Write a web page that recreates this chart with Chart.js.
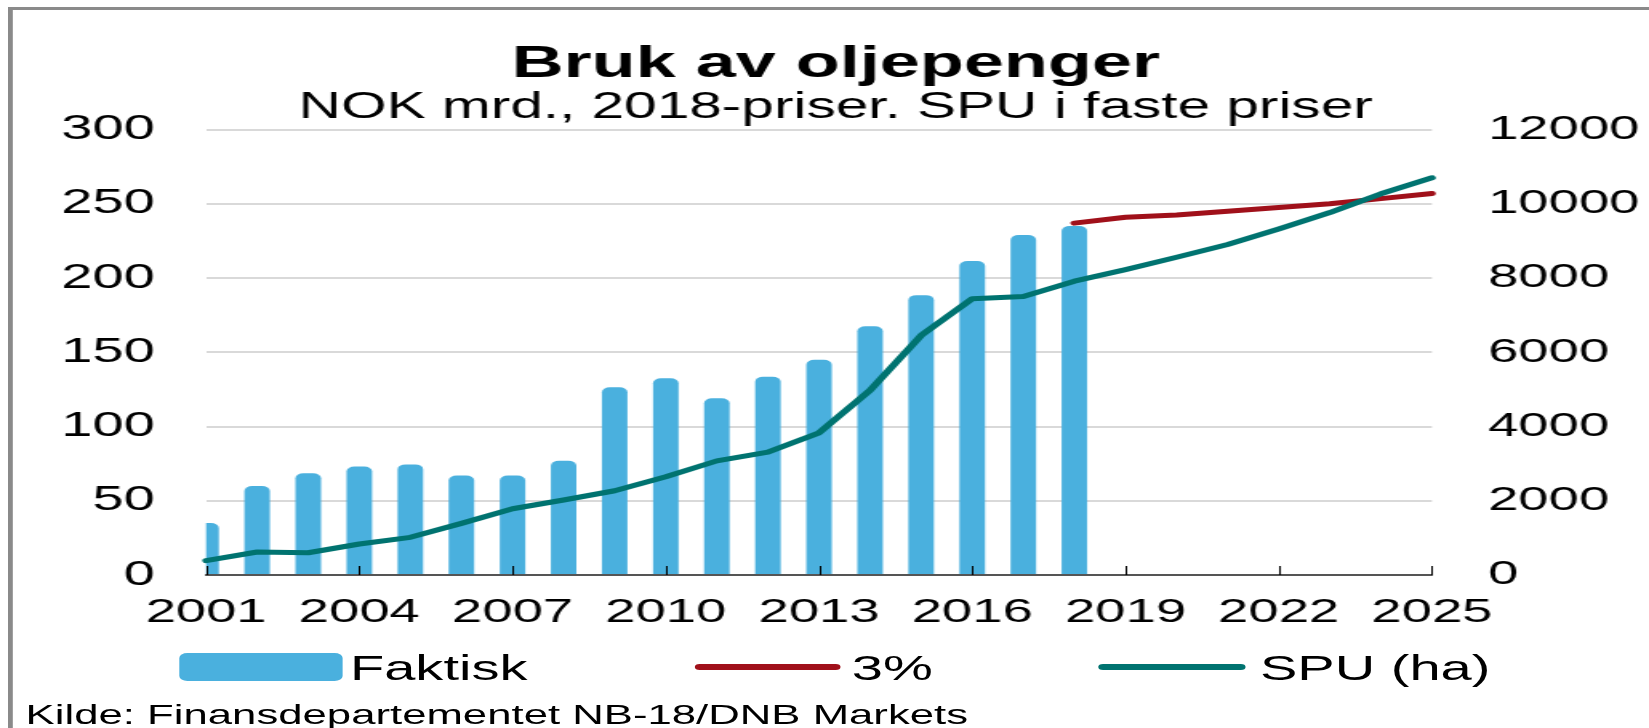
<!DOCTYPE html>
<html>
<head>
<meta charset="utf-8">
<script src="https://cdn.jsdelivr.net/npm/chart.js@4"></script>
<style>
  body { margin: 0; overflow: hidden; background: #fff; }
  #wrap { position: absolute; left: 0; top: 0; width: 1030px; height: 728px;
          transform: scaleX(1.601); transform-origin: 0 0;
          font-family: "Liberation Sans", Arial, sans-serif; color: #000; }
  #frame { position: absolute; left: 5px; top: 7px; width: 2000px; height: 2000px;
           border-top: 3px solid #8a8a8a; border-left: 3px solid #8a8a8a; }
  .leg { position: absolute; }
  .legtxt { position: absolute; top: 650px; font-size: 35px; line-height: 35px; white-space: nowrap; }
  #kilde { position: absolute; left: 16px; top: 702px; font-size: 27.3px; line-height: 26px; white-space: nowrap; }
</style>
</head>
<body>
<div id="wrap">
  <div id="frame"></div>
  <canvas id="oljeChart" width="1030" height="728"></canvas>
  <div id="legend"></div>
  <div id="kilde">Kilde: Finansdepartementet NB-18/DNB Markets</div>
</div>
<script>
// categories
const years = ['2001', '2002', '2003', '2004', '2005', '2006', '2007', '2008', '2009', '2010',
  '2011', '2012', '2013', '2014', '2015', '2016', '2017', '2018', '2019', '2020',
  '2021', '2022', '2023', '2024', '2025'];

// Faktisk bruk, NOK mrd (venstre akse)
const faktisk = [35, 60, 68.5, 73, 74.5, 67, 67, 77, 126.5, 132.5, 119, 133.5, 145, 167.5,
  188.5, 211.5, 229, 235];

// 3 % banen, NOK mrd (venstre akse)
const treProsent = [null, null, null, null, null, null, null, null, null, null, null, null,
  null, null, null, null, null, 237, 241, 242.5, 245, 247.5, 250, 253.5, 257];

// SPU (høyre akse)
const spu = [385, 620, 600, 835, 1015, 1390, 1785, 2020, 2270, 2645, 3075, 3310, 3830, 4980,
  6455, 7445, 7505, 7915, 8230, 8560, 8905, 9325, 9765, 10270, 10700];

const leftTicks = [0, 50, 100, 150, 200, 250, 300];
const rightTicks = [0, 2000, 4000, 6000, 8000, 10000, 12000];

const FONT = '"Liberation Sans", Arial, sans-serif';
const BLUE = '#4ab0de';
const RED = '#a0101a';
const TEAL = '#007370';

// small inward tick marks on the x axis, every third year
const xTickMarks = {
  id: 'xTickMarks',
  afterDatasetsDraw(chart) {
    const ctx = chart.ctx;
    const x = chart.scales.x;
    const bottom = chart.chartArea.bottom;
    ctx.save();
    ctx.strokeStyle = '#000';
    ctx.lineWidth = 1;
    years.forEach((y, i) => {
      if (i % 3 !== 0) return;
      const px = Math.round(x.getPixelForValue(i)) + 0.5;
      ctx.beginPath();
      ctx.moveTo(px, bottom);
      ctx.lineTo(px, bottom - 9);
      ctx.stroke();
    });
    ctx.restore();
  }
};

const ctx = document.getElementById('oljeChart').getContext('2d');
const chart = new Chart(ctx, {
  type: 'bar',
  data: {
    labels: years,
    datasets: [
      {
        type: 'line',
        label: 'SPU (ha)',
        data: spu,
        yAxisID: 'y1',
        borderColor: TEAL,
        backgroundColor: TEAL,
        borderWidth: 5,
        borderCapStyle: 'round',
        borderJoinStyle: 'round',
        pointRadius: 0,
        tension: 0,
        order: 0
      },
      {
        type: 'line',
        label: '3%',
        data: treProsent,
        yAxisID: 'y',
        borderColor: RED,
        backgroundColor: RED,
        borderWidth: 5,
        borderCapStyle: 'round',
        borderJoinStyle: 'round',
        pointRadius: 0,
        tension: 0,
        order: 1
      },
      {
        label: 'Faktisk',
        data: faktisk,
        yAxisID: 'y',
        backgroundColor: BLUE,
        borderWidth: 0,
        borderRadius: 5,
        categoryPercentage: 1,
        barPercentage: 0.5,
        clip: { left: 0, top: false, right: false, bottom: false },
        order: 2
      }
    ]
  },
  options: {
    responsive: false,
    animation: false,
    layout: { padding: { left: 14, right: 0, top: 0, bottom: 93 } },
    plugins: {
      legend: { display: false },
      tooltip: { enabled: false },
      title: {
        display: true,
        text: 'Bruk av oljepenger',
        color: '#000',
        font: { family: FONT, size: 45, weight: 'bold', lineHeight: 1 },
        padding: { top: 42, bottom: 0 }
      },
      subtitle: {
        display: true,
        text: 'NOK mrd., 2018-priser. SPU i faste priser',
        color: '#000',
        font: { family: FONT, size: 36.6, lineHeight: 1 },
        padding: { top: 3, bottom: 3 }
      }
    },
    scales: {
      x: {
        offset: false,
        grid: { display: false, drawTicks: false },
        border: { display: true, color: '#555', width: 2 },
        ticks: {
          color: '#000',
          font: { family: FONT, size: 34 },
          padding: 17,
          autoSkip: false,
          maxRotation: 0,
          callback: (v, i) => (i % 3 === 0 ? years[i] : '')
        },
        afterFit: (s) => { s.height = 60; }
      },
      y: {
        position: 'left',
        min: 0,
        max: 300,
        afterBuildTicks: (s) => { s.ticks = leftTicks.map(v => ({ value: v })); },
        grid: { color: '#d9d9d9', lineWidth: 2, drawTicks: false },
        border: { display: false },
        ticks: { color: '#000', font: { family: FONT, size: 35 }, padding: 32 },
        afterFit: (s) => { s.width = 114.7; }
      },
      y1: {
        position: 'right',
        min: 0,
        max: 12000,
        afterBuildTicks: (s) => { s.ticks = rightTicks.map(v => ({ value: v })); },
        grid: { display: false, drawTicks: false },
        border: { display: false },
        ticks: {
          color: '#000',
          font: { family: FONT, size: 34 },
          padding: 35,
          callback: (v) => String(v)
        },
        afterFit: (s) => { s.width = 135.6; }
      }
    }
  },
  plugins: [xTickMarks]
});

// html legend, built from the chart datasets
const legendItems = [
  { ds: 2, box: 111.8, text: 218.6, kind: 'box' },
  { ds: 1, box: 433.5, text: 532, kind: 'line' },
  { ds: 0, box: 686.4, text: 787, kind: 'line' }
];
const legendEl = document.getElementById('legend');
legendItems.forEach(it => {
  const ds = chart.data.datasets[it.ds];
  const mark = document.createElement('div');
  mark.className = 'leg';
  mark.style.left = it.box + 'px';
  if (it.kind === 'box') {
    mark.style.top = '653px';
    mark.style.width = '101.8px';
    mark.style.height = '28px';
    mark.style.borderRadius = '5px';
    mark.style.background = ds.backgroundColor;
  } else {
    mark.style.top = '664px';
    mark.style.width = '91.8px';
    mark.style.height = '6px';
    mark.style.borderRadius = '3px';
    mark.style.background = ds.borderColor;
  }
  legendEl.appendChild(mark);
  const txt = document.createElement('div');
  txt.className = 'legtxt';
  txt.style.left = it.text + 'px';
  txt.textContent = ds.label;
  legendEl.appendChild(txt);
});
</script>
</body>
</html>
